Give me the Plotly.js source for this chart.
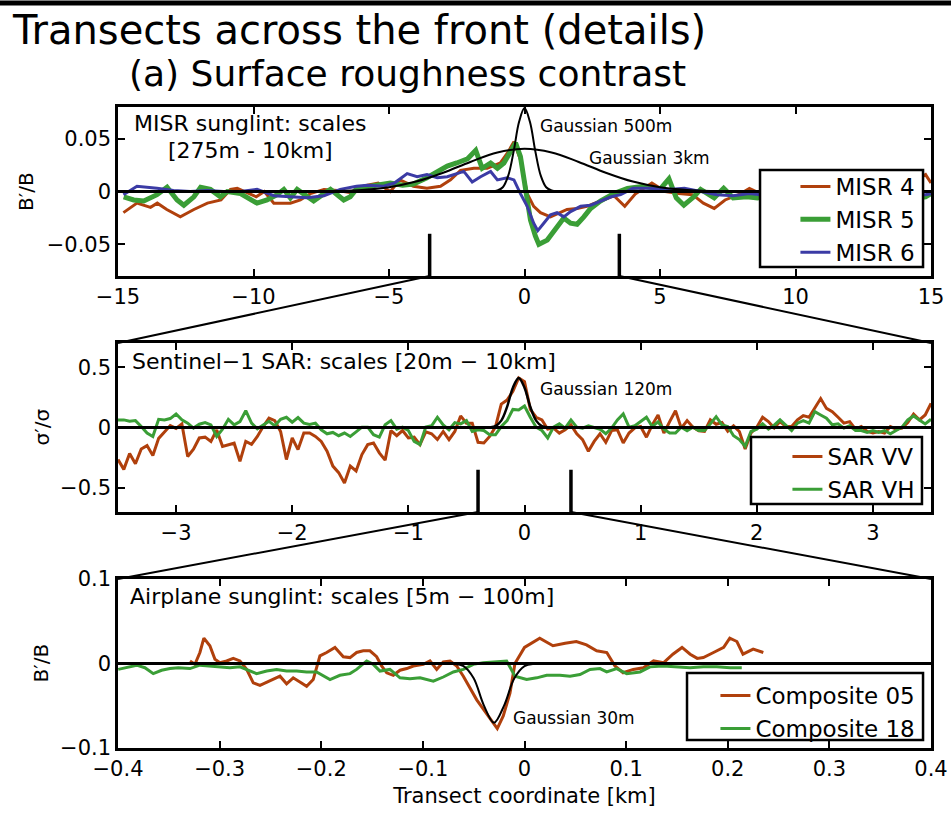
<!DOCTYPE html>
<html>
<head>
<meta charset="utf-8">
<script src="https://cdn.plot.ly/plotly-3.0.1.min.js"></script>
<style>html,body{margin:0;padding:0;background:#fff;}</style>
</head>
<body>
<div id="chart" style="width:951px;height:814px;"></div>
<script>
// ---------- Panel 1: MISR sunglint (km) ----------
const misr4X = [-14.8,-14.3,-13.8,-13.55,-13.2,-12.7,-12.2,-11.7,-11.2,-10.85,-10.6,-10.2,-9.9,-9.6,-9.25,-8.64,-8.27,-7.9,-7.4,-6.9,-6.4,-6.2,-5.8,-5.4,-5.2,-4.95,-4.6,-4.1,-3.6,-3.1,-2.73,-2.36,-1.87,-1.38,-0.89,-0.64,-0.39,-0.15,0.1,0.34,0.59,0.96,1.33,1.57,1.94,2.3,2.8,3.3,3.7,4.1,4.7,5.2,5.7,6.2,6.6,7.0,7.4,7.9,8.3,8.7,9.2,9.8,10.4,11.0,11.6,12.2,12.8,13.4,14.0,14.5,14.8,15.0];
const misr4Y = [-0.020,-0.011,-0.015,-0.011,-0.017,-0.024,-0.017,-0.011,-0.008,0.002,0.003,-0.002,-0.005,0.000,-0.011,-0.011,-0.008,-0.002,0.002,0.001,-0.001,0.003,0.006,0.008,0.004,0.000,0.011,0.005,0.003,0.005,0.011,0.020,0.022,0.022,0.027,0.036,0.047,0.030,-0.002,-0.014,-0.020,-0.024,-0.020,-0.017,-0.016,-0.014,-0.009,-0.004,-0.014,-0.002,0.008,0.000,-0.002,-0.003,-0.011,-0.016,-0.008,-0.003,0.003,-0.002,-0.004,0.002,-0.003,0.001,-0.002,0.002,-0.003,0.001,0.004,0.012,0.016,0.008];

const misr5X = [-14.79,-14.42,-14.05,-13.56,-13.19,-12.82,-12.57,-12.2,-11.95,-11.59,-11.22,-10.97,-10.48,-9.87,-9.5,-9.13,-8.88,-8.64,-8.39,-8.02,-7.78,-7.4,-7.16,-6.67,-6.43,-6.18,-5.57,-4.95,-4.5,-4.1,-3.6,-3.2,-2.85,-2.5,-2.1,-1.8,-1.56,-1.25,-1.0,-0.76,-0.58,-0.33,-0.15,0.04,0.22,0.4,0.53,0.84,1.2,1.45,1.7,1.94,2.19,2.44,2.8,3.3,3.8,4.4,5.0,5.33,5.6,5.88,6.25,6.5,7.0,7.35,7.7,8.2,8.6,9.2,9.8,10.4,11.0,11.6,12.2,12.8,13.4,14.0,14.5,14.8,15.0];
const misr5Y = [-0.005,-0.008,-0.009,-0.003,0.004,-0.008,-0.013,-0.005,0.004,0.002,-0.005,0.000,-0.002,-0.011,-0.008,-0.003,0.002,-0.006,0.002,-0.005,-0.009,-0.002,0.002,-0.008,-0.005,0.003,0.005,0.008,0.006,0.007,0.013,0.019,0.024,0.027,0.031,0.039,0.022,0.027,0.022,0.027,0.036,0.046,0.033,0.002,-0.027,-0.042,-0.050,-0.046,-0.033,-0.025,-0.030,-0.031,-0.024,-0.016,-0.009,-0.002,0.003,0.005,0.002,0.012,-0.006,-0.013,-0.005,0.002,-0.006,0.003,-0.006,-0.005,-0.006,-0.002,0.001,-0.003,0.000,-0.004,0.001,-0.002,0.000,-0.003,-0.006,-0.005,-0.002];

const misr6X = [-14.8,-14.3,-13.56,-12.95,-12.33,-11.7,-11.1,-10.48,-9.87,-9.25,-8.64,-8.02,-7.4,-6.8,-6.2,-5.8,-5.2,-4.8,-4.33,-3.96,-3.6,-3.22,-2.85,-2.48,-2.24,-1.93,-1.62,-1.25,-1.0,-0.64,-0.39,-0.15,0.1,0.34,0.49,0.71,0.96,1.2,1.45,1.7,2.07,2.44,2.8,3.2,3.55,4.0,4.6,5.3,5.9,6.5,7.1,7.7,8.3,8.7,9.4,10.0,10.7,11.4,12.1,12.8,13.5,14.2,14.8,15.0];
const misr6Y = [-0.003,0.005,0.003,0.001,0.000,0.001,0.000,0.000,0.002,-0.004,-0.005,-0.006,-0.004,0.002,0.005,0.006,0.005,0.008,0.017,0.014,0.016,0.013,0.014,0.017,0.019,0.009,0.014,0.019,0.011,0.013,0.011,-0.002,-0.014,-0.030,-0.037,-0.030,-0.022,-0.020,-0.024,-0.019,-0.014,-0.013,-0.009,-0.005,-0.003,0.003,0.003,0.002,0.003,0.000,-0.003,-0.004,-0.002,-0.003,-0.001,0.001,-0.002,0.000,-0.003,-0.001,0.000,-0.002,-0.003,-0.002];

const gauss500X = [-1.3,-1.0,-0.8,-0.6,-0.4,-0.2,0,0.2,0.4,0.6,0.8,1.0,1.3];
const gauss500Y = [0,0.001,0.004,0.015,0.038,0.066,0.079,0.066,0.038,0.015,0.004,0.001,0];
const gauss3kmX = [-8,-7,-6,-5,-4,-3,-2,-1,0,1,2,3,4,5,6,7,8];
const gauss3kmY = [0.0001,0.0005,0.0015,0.0041,0.0094,0.0178,0.028,0.037,0.0405,0.037,0.028,0.0178,0.0094,0.0041,0.0015,0.0005,0.0001];

// ---------- Panel 2: Sentinel-1 SAR (sampled every 0.05 km from -3.5 km) ----------
const sarStart = -3.5, sarStep = 0.05;
const sarVV = [
 -0.265,-0.347,-0.216,-0.30,-0.178,-0.15,-0.232,-0.09,-0.038,0.016,
 -0.008,0.03,-0.24,-0.18,-0.087,-0.08,-0.115,-0.02,-0.156,-0.14,
 -0.13,-0.28,-0.115,-0.14,-0.074,0.008,0.077,0.057,-0.033,-0.265,
 -0.087,-0.183,-0.046,-0.046,-0.074,-0.115,-0.197,-0.32,-0.374,-0.46,
 -0.32,-0.36,-0.224,-0.142,-0.128,-0.21,-0.27,-0.025,-0.068,-0.025,
 -0.087,-0.08,-0.142,-0.036,-0.052,-0.10,-0.033,-0.10,-0.033,0.096,
 0.036,0.036,-0.123,-0.128,-0.074,0.005,0.194,0.227,0.30,0.41,
 0.38,0.15,0.085,0.063,-0.014,-0.005,-0.046,-0.019,0.022,-0.052,
 -0.10,-0.197,-0.115,-0.052,-0.123,-0.025,-0.019,-0.128,-0.046,-0.003,
 0.008,-0.08,0.022,0.104,-0.046,0.049,0.139,-0.005,0.057,0.003,
 -0.027,-0.033,0.063,0.027,0.041,-0.03,0.014,-0.033,-0.178,-0.046,
 0.003,0.085,0.049,-0.005,0.049,0.008,0.008,0.063,0.098,0.085,
 0.158,0.24,0.158,0.131,0.085,0.036,0.049,-0.014,0.008,-0.033,
 -0.046,-0.033,-0.046,0.008,-0.014,-0.005,0.041,0.112,0.063,0.104,
 0.2];
const sarVH = [
 0.063,0.063,0.052,0.057,0.008,-0.046,-0.074,0.068,0.063,0.074,
 0.112,0.063,0.036,-0.005,0.027,0.041,0.022,-0.074,-0.014,0.068,
 0.022,0.049,0.139,0.036,-0.011,0.022,0.052,0.014,0.068,0.085,
 0.044,0.082,0.036,0.025,0.036,-0.019,-0.052,-0.041,-0.068,-0.046,
 -0.074,-0.036,0.003,0.003,-0.06,-0.08,0.022,0.057,-0.014,0.003,
 -0.025,-0.115,-0.142,0.003,0.014,0.085,0.022,-0.019,0.041,0.03,
 0.057,-0.033,-0.019,-0.025,-0.06,-0.06,0.008,0.057,0.15,0.145,
 0.178,0.085,0.003,-0.025,-0.087,0.003,0.03,-0.005,0.063,0.003,
 -0.005,0.014,0.003,-0.014,-0.052,-0.005,0.063,0.112,0.003,0.014,
 0.049,0.085,0.008,0.046,-0.014,-0.046,-0.046,0.003,-0.027,0.003,
 -0.025,-0.025,0.03,0.09,0.022,0.008,-0.068,-0.10,-0.156,-0.033,
 -0.014,0.03,-0.014,0.019,0.063,0.022,-0.025,0.036,0.057,0.036,
 0.131,0.104,0.077,0.022,0.03,-0.005,0.014,-0.025,-0.025,-0.041,
 -0.025,-0.041,-0.025,-0.052,-0.025,0.003,0.063,0.096,0.063,0.03,
 0.068];
const gauss120X = [-0.35,-0.3,-0.25,-0.2,-0.15,-0.1,-0.05,0,0.05,0.1,0.15,0.2,0.25];
const gauss120Y = [0,0.002,0.012,0.057,0.171,0.33,0.41,0.33,0.171,0.057,0.012,0.002,0];

// ---------- Panel 3: Airplane sunglint ----------
const comp05X = [-0.3292,-0.3243,-0.3194,-0.3155,-0.3096,-0.3046,-0.2997,-0.2931,-0.2866,-0.2800,-0.2734,-0.2669,-0.2603,-0.2537,-0.2472,-0.2406,-0.2341,-0.2276,-0.2210,-0.2144,-0.2079,-0.2013,-0.1947,-0.1865,-0.1783,-0.1717,-0.1652,-0.1587,-0.1521,-0.1455,-0.1406,-0.1356,-0.1291,-0.1225,-0.1159,-0.1094,-0.0996,-0.0930,-0.0864,-0.0799,-0.0733,-0.0667,-0.0602,-0.0536,-0.0470,-0.0405,-0.0340,-0.0268,-0.0209,-0.0143,-0.0094,-0.003,0.0,0.015,0.028,0.040,0.051,0.061,0.071,0.081,0.089,0.097,0.107,0.117,0.127,0.137,0.146,0.155,0.163,0.170,0.176,0.186,0.196,0.202,0.209,0.215,0.225,0.235];
const comp05Y = [0.003,-0.001,0.013,0.030,0.021,0.005,0.001,0.003,0.006,0.003,-0.007,-0.023,-0.026,-0.022,-0.019,-0.015,-0.024,-0.017,-0.022,-0.027,-0.019,0.009,0.013,0.019,0.008,0.007,0.013,0.015,0.015,0.008,-0.003,-0.011,-0.014,-0.008,-0.006,-0.003,-0.001,0.003,-0.007,0.002,0.003,-0.003,-0.015,-0.029,-0.043,-0.054,-0.065,-0.077,-0.062,-0.035,0.000,0.013,0.019,0.030,0.021,0.024,0.026,0.022,0.015,0.013,-0.003,-0.011,-0.007,-0.005,0.003,0.001,0.011,0.019,0.011,0.006,0.007,0.013,0.019,0.030,0.026,0.011,0.017,0.013];
const comp18X = [-0.3998,-0.3916,-0.3817,-0.3735,-0.3653,-0.3571,-0.3489,-0.3407,-0.3292,-0.3194,-0.3096,-0.2997,-0.2899,-0.2800,-0.2734,-0.2636,-0.2537,-0.2439,-0.2341,-0.2242,-0.2144,-0.2046,-0.1914,-0.1816,-0.1717,-0.1652,-0.1553,-0.1488,-0.1422,-0.1324,-0.1225,-0.1127,-0.1028,-0.0897,-0.0799,-0.0700,-0.0602,-0.0504,-0.0405,-0.0307,-0.0209,-0.0176,-0.0094,0.0021,0.0120,0.0218,0.0349,0.0448,0.0546,0.0645,0.0743,0.0809,0.0907,0.1006,0.1137,0.1235,0.1366,0.1498,0.1629,0.1760,0.1891,0.2023,0.2138];
const comp18Y = [-0.007,-0.005,-0.002,-0.005,-0.012,-0.008,-0.006,-0.005,-0.006,-0.002,-0.003,-0.004,-0.005,-0.004,-0.007,-0.012,-0.009,-0.007,-0.009,-0.009,-0.010,-0.010,-0.019,-0.014,-0.012,-0.007,0.003,-0.001,-0.009,-0.007,-0.017,-0.018,-0.017,-0.021,-0.016,-0.010,-0.007,-0.001,0.001,0.002,0.003,0.003,-0.015,-0.019,-0.017,-0.014,-0.014,-0.015,-0.013,-0.007,-0.006,-0.010,-0.006,-0.012,-0.010,-0.004,-0.003,-0.004,-0.005,-0.004,-0.004,-0.005,-0.005];
const gauss30X = [-0.08,-0.07,-0.06,-0.05,-0.04,-0.03,-0.02,-0.01,0.0,0.01,0.02];
const gauss30Y = [0,-0.0003,-0.0031,-0.0175,-0.0495,-0.070,-0.0495,-0.0175,-0.0031,-0.0003,0];

// ---------- Axis ranges / ticks ----------
const range1 = [-15, 15], range2 = [-3.5, 3.5], range3 = [-0.4, 0.4];
const yRange1 = [-0.08, 0.08], yRange2 = [-0.7, 0.7], yRange3 = [-0.1, 0.1];
const xTicks1 = [-15,-10,-5,0,5,10,15], xLabels1 = ['\u221215','\u221210','\u22125','0','5','10','15'];
const xTicks2 = [-3,-2,-1,0,1,2,3], xLabels2 = ['\u22123','\u22122','\u22121','0','1','2','3'];
const xTicks3 = [-0.4,-0.3,-0.2,-0.1,0,0.1,0.2,0.3,0.4], xLabels3 = ['\u22120.4','\u22120.3','\u22120.2','\u22120.1','0','0.1','0.2','0.3','0.4'];
const yTicks1 = [-0.05,0,0.05], yLabels1 = ['\u22120.05','0','0.05'];
const yTicks2 = [-0.5,0,0.5], yLabels2 = ['\u22120.5','0','0.5'];
const yTicks3 = [-0.1,0,0.1], yLabels3 = ['\u22120.1','0','0.1'];

const BROWN = '#b0400c', GREEN = '#3a9e36', BLUE = '#3b3ba5';

const traces = [
  {x: misr4X, y: misr4Y, xaxis:'x', yaxis:'y', mode:'lines', name:'MISR 4', line:{color:BROWN, width:3}, legend:'legend'},
  {x: misr5X, y: misr5Y, xaxis:'x', yaxis:'y', mode:'lines', name:'MISR 5', line:{color:GREEN, width:5}, legend:'legend'},
  {x: misr6X, y: misr6Y, xaxis:'x', yaxis:'y', mode:'lines', name:'MISR 6', line:{color:BLUE, width:3}, legend:'legend'},
  {x: gauss500X, y: gauss500Y, xaxis:'x', yaxis:'y', mode:'lines', line:{color:'black', width:2, shape:'spline'}, showlegend:false},
  {x: gauss3kmX, y: gauss3kmY, xaxis:'x', yaxis:'y', mode:'lines', line:{color:'black', width:2, shape:'spline'}, showlegend:false},

  {x0: sarStart, dx: sarStep, y: sarVV, xaxis:'x2', yaxis:'y2', mode:'lines', name:'SAR VV', line:{color:BROWN, width:3}, legend:'legend2'},
  {x0: sarStart, dx: sarStep, y: sarVH, xaxis:'x2', yaxis:'y2', mode:'lines', name:'SAR VH', line:{color:GREEN, width:3}, legend:'legend2'},
  {x: gauss120X, y: gauss120Y, xaxis:'x2', yaxis:'y2', mode:'lines', line:{color:'black', width:2.5, shape:'spline'}, showlegend:false},

  {x: comp05X, y: comp05Y, xaxis:'x3', yaxis:'y3', mode:'lines', name:'Composite 05', line:{color:BROWN, width:3}, legend:'legend3'},
  {x: comp18X, y: comp18Y, xaxis:'x3', yaxis:'y3', mode:'lines', name:'Composite 18', line:{color:GREEN, width:3}, legend:'legend3'},
  {x: gauss30X, y: gauss30Y, xaxis:'x3', yaxis:'y3', mode:'lines', line:{color:'black', width:2, shape:'spline'}, showlegend:false}
];

const ax = {showline:true, linecolor:'black', linewidth:2.5, mirror:'ticks', ticks:'inside', ticklen:7, tickwidth:2, tickcolor:'black',
  showgrid:false, zeroline:false, tickfont:{size:21, color:'black'}, fixedrange:true};

const dom1 = [0.7363, 1], dom2 = [0.3682, 0.6318], dom3 = [0, 0.2637];

function px(v, r) { return (v - r[0]) / (r[1] - r[0]); }

const shapes = [];
// zero reference lines
[['y','x'],['y2','x2'],['y3','x3']].forEach(([ya, xa]) => {
  shapes.push({type:'line', xref: xa + ' domain', yref: ya, x0:0, x1:1, y0:0, y1:0, line:{color:'black', width:3}, layer:'above'});
});
// zoom markers + connectors
const zoomSets = [
  {xa:'x', ya:'y', r:range1, yr:yRange1, win:range2, tickTop:-0.04, fromDom:dom1, toDom:dom2},
  {xa:'x2', ya:'y2', r:range2, yr:yRange2, win:range3, tickTop:-0.35, fromDom:dom2, toDom:dom3}
];
zoomSets.forEach(z => {
  z.win.forEach((w, i) => {
    shapes.push({type:'line', xref:z.xa, yref:z.ya, x0:w, x1:w, y0:z.tickTop, y1:z.yr[0], line:{color:'black', width:3.5}, layer:'above'});
    shapes.push({type:'line', xref:'paper', yref:'paper', x0:px(w, z.r), y0:z.fromDom[0], x1:i, y1:z.toDom[1], line:{color:'black', width:2}});
  });
});
// top border rule
shapes.push({type:'line', xref:'paper', yref:'paper', x0:-0.2, x1:1.1, y0:1.1622, y1:1.1622, line:{color:'black', width:5}});
// legend frames (white boxes with black border, drawn above the data; legend text sits on top)
const legendBoxes = [[0.7897, 0.7504, 0.9902, 0.9017], [0.7786, 0.3807, 0.9889, 0.4852], [0.6999, 0.0125, 0.9902, 0.1170]];
legendBoxes.forEach(b => shapes.push({type:'rect', xref:'paper', yref:'paper', x0:b[0], y0:b[1], x1:b[2], y1:b[3],
  fillcolor:'white', line:{color:'black', width:2.5}, layer:'above'}));

const A = (text, x, y, size, extra) => Object.assign({text, x, y, xref:'paper', yref:'paper', xanchor:'left', yanchor:'middle', showarrow:false, font:{size, color:'black'}}, extra || {});
const annotations = [
  A('Transects across the front (details)', -0.1328, 1.1201, 40),
  A('(a) Surface roughness contrast', 0.0111, 1.0530, 36),
  A('MISR sunglint: scales', 0.0172, 0.9743, 22),
  A('[275m - 10km]', 0.059, 0.9321, 22),
  A('Gaussian 500m', 0.5166, 0.9704, 17),
  A('Gaussian 3km', 0.5769, 0.9197, 17),
  A('Sentinel\u22121 SAR: scales [20m \u2212 10km]', 0.0148, 0.6022, 22),
  A('Gaussian 120m', 0.5166, 0.5593, 17),
  A('Airplane sunglint: scales [5m \u2212 100m]', 0.0123, 0.2363, 22),
  A('Gaussian 30m', 0.4834, 0.0468, 17),
  A('B\u2032/B', -0.1125, 0.8682, 20, {xanchor:'center', textangle:-90}),
  A('\u03c3\u2032/\u03c3', -0.0947, 0.5, 20, {xanchor:'center', textangle:-90}),
  A('B\u2032/B', -0.0947, 0.1319, 20, {xanchor:'center', textangle:-90})
];

const legendStyle = {xanchor:'right', yanchor:'top', x:0.987, borderwidth:0, bgcolor:'rgba(0,0,0,0)', font:{size:23, color:'black'}, tracegroupgap:0};

const layout = {
  width:951, height:814,
  margin:{l:118, r:20, t:107, b:66},
  paper_bgcolor:'white', plot_bgcolor:'white',
  font:{family:'DejaVu Sans', size:21, color:'black'},
  showlegend:true,
  xaxis: Object.assign({}, ax, {domain:[0,1], anchor:'y', range:range1, tickvals:xTicks1, ticktext:xLabels1}),
  yaxis: Object.assign({}, ax, {domain:dom1, anchor:'x', range:yRange1, tickvals:yTicks1, ticktext:yLabels1}),
  xaxis2: Object.assign({}, ax, {domain:[0,1], anchor:'y2', range:range2, tickvals:xTicks2, ticktext:xLabels2}),
  yaxis2: Object.assign({}, ax, {domain:dom2, anchor:'x2', range:yRange2, tickvals:yTicks2, ticktext:yLabels2}),
  xaxis3: Object.assign({}, ax, {domain:[0,1], anchor:'y3', range:range3, tickvals:xTicks3, ticktext:xLabels3,
            title:{text:'Transect coordinate [km]', font:{size:21, color:'black'}, standoff:9}}),
  yaxis3: Object.assign({}, ax, {domain:dom3, anchor:'x3', range:yRange3, tickvals:yTicks3, ticktext:yLabels3}),
  legend: Object.assign({}, legendStyle, {y:0.9095}),
  legend2: Object.assign({}, legendStyle, {y:0.4883}),
  legend3: Object.assign({}, legendStyle, {y:0.1154}),
  shapes, annotations
};

Plotly.newPlot('chart', traces, layout, {displayModeBar:false, responsive:false});
</script>
</body>
</html>
